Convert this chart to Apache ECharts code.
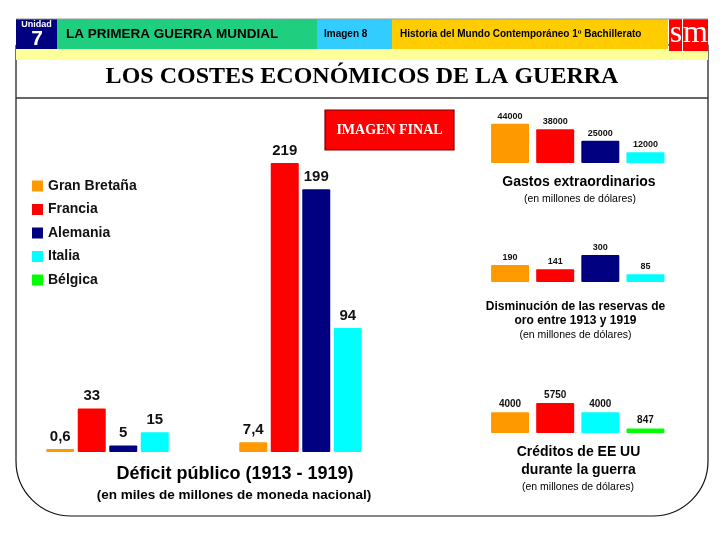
<!DOCTYPE html>
<html>
<head>
<meta charset="utf-8">
<script src="https://cdn.jsdelivr.net/npm/echarts@6/dist/echarts.min.js"></script>
<style>
html,body{margin:0;padding:0;background:#fff;}
#chart{width:728px;height:546px;}
</style>
</head>
<body>
<div id="chart"></div>
<script>
// ---- data ----
const countries = ['Gran Bretaña', 'Francia', 'Alemania', 'Italia', 'Bélgica'];
const countryColors = ['#FF9900', '#FF0000', '#000080', '#00FFFF', '#00FF00'];

const deficitYears = ['1913', '1919'];
const deficitGranBretana = [0.6, 7.4];
const deficitFrancia = [33, 219];
const deficitAlemania = [5, 199];
const deficitItalia = [15, 94];

const gastosCountries = ['Gran Bretaña', 'Francia', 'Alemania', 'Italia'];
const gastosValues = [44000, 38000, 25000, 12000];

const oroCountries = ['Gran Bretaña', 'Francia', 'Alemania', 'Italia'];
const oroValues = [190, 141, 300, 85];

const creditosCountries = ['Gran Bretaña', 'Francia', 'Italia', 'Bélgica'];
const creditosValues = [4000, 5750, 4000, 847];

// ---- build ----
const SANS = '"Liberation Sans", Arial, sans-serif';
const SERIF = '"Liberation Serif", "Times New Roman", serif';
const colorOf = name => countryColors[countries.indexOf(name)];
const fmt = v => String(v).replace('.', ',');

const series = [];
const mainData = [deficitGranBretana, deficitFrancia, deficitAlemania, deficitItalia];
mainData.forEach((arr, i) => {
  series.push({
    type: 'bar', name: countries[i], xAxisIndex: 0, yAxisIndex: 0,
    data: arr, barWidth: 28, barGap: '12.5%', barMinHeight: 3,
    itemStyle: { color: countryColors[i], borderRadius: 1 },
    label: { show: true, position: 'top', distance: 5, formatter: p => fmt(p.value),
      fontFamily: SANS, fontWeight: 'bold', fontSize: 15, color: '#111' }
  });
});

function smallSeries(cats, values, idx, fontSize, dist) {
  cats.forEach((c, i) => {
    series.push({
      type: 'bar', name: c, xAxisIndex: idx, yAxisIndex: idx, stack: 's' + idx,
      barWidth: 38,
      data: cats.map((cc, j) => (j === i ? values[i] : '-')),
      itemStyle: { color: colorOf(c), borderRadius: 1 },
      label: { show: true, position: 'top', distance: dist,
        fontFamily: SANS, fontWeight: 'bold', fontSize: fontSize, color: '#111' }
    });
  });
}
smallSeries(gastosCountries, gastosValues, 1, 9, 3);
smallSeries(oroCountries, oroValues, 2, 9, 3);
smallSeries(creditosCountries, creditosValues, 3, 10, 3);

function txt(text, x, y, size, opts) {
  opts = opts || {};
  return {
    type: 'text', z: 100,
    style: {
      text: text, x: x, y: y,
      font: (opts.weight || 'bold') + ' ' + size + 'px ' + (opts.family || SANS),
      fill: opts.color || '#000',
      align: opts.align || 'center', textAlign: opts.align || 'center',
      verticalAlign: 'middle', textVerticalAlign: 'middle'
    }
  };
}

const graphic = [
  // frame
  { type: 'rect', z: 1, shape: { x: 16, y: 45, width: 692, height: 471, r: [0, 0, 55, 55] },
    style: { fill: 'none', stroke: '#111', lineWidth: 1.2 } },
  // header
  { type: 'rect', z: 50, shape: { x: 16, y: 19, width: 41, height: 30 }, style: { fill: '#000080' } },
  { type: 'rect', z: 50, shape: { x: 57, y: 19, width: 260, height: 30 }, style: { fill: '#1FCE7E' } },
  { type: 'rect', z: 50, shape: { x: 317, y: 19, width: 75, height: 30 }, style: { fill: '#33CCFF' } },
  { type: 'rect', z: 50, shape: { x: 392, y: 19, width: 276, height: 30 }, style: { fill: '#FFCC00' } },
  { type: 'rect', z: 50, shape: { x: 669, y: 19, width: 39, height: 32 }, style: { fill: '#FF0000' } },
  { type: 'rect', z: 50, shape: { x: 16, y: 49, width: 653, height: 11 }, style: { fill: '#FFFF99' } },
  { type: 'rect', z: 50, shape: { x: 669, y: 51, width: 39, height: 9 }, style: { fill: '#FFFF99' } },
  { type: 'line', z: 52, shape: { x1: 682.5, y1: 19, x2: 682.5, y2: 51 }, style: { stroke: '#fff', lineWidth: 1 } },
  { type: 'line', z: 51, shape: { x1: 16, y1: 19, x2: 708, y2: 19 }, style: { stroke: '#999', lineWidth: 1 } },
  txt('Unidad', 36.5, 25, 9, { color: '#fff' }),
  txt('7', 37, 39, 21, { color: '#fff' }),
  txt('LA PRIMERA GUERRA MUNDIAL', 66, 34.5, 13.5, { align: 'left' }),
  txt('Imagen 8', 324, 34.5, 10, { align: 'left' }),
  txt('Historia del Mundo Contemporáneo 1º Bachillerato', 400, 34.5, 10, { align: 'left' }),
  txt('s', 676, 34, 32, { color: '#fff', weight: 'normal', family: SERIF }),
  txt('m', 695.5, 34, 32, { color: '#fff', weight: 'normal', family: SERIF }),
  // title
  txt('LOS COSTES ECONÓMICOS DE LA GUERRA', 362, 77, 24, { family: SERIF }),
  { type: 'line', z: 2, shape: { x1: 16, y1: 98, x2: 708, y2: 98 }, style: { stroke: '#333', lineWidth: 1.5 } },
  // imagen final
  { type: 'rect', z: 5, shape: { x: 325, y: 110, width: 129, height: 40 },
    style: { fill: '#FF0000', stroke: '#7a0000', lineWidth: 1.2 } },
  txt('IMAGEN FINAL', 389.5, 130, 14, { color: '#fff', family: SERIF }),
  // main captions
  txt('Déficit público (1913 - 1919)', 235, 474, 18),
  txt('(en miles de millones de moneda nacional)', 234, 495, 13.5),
  // small captions
  txt('Gastos extraordinarios', 579, 182, 14),
  txt('(en millones de dólares)', 580, 199, 10.5, { weight: 'normal' }),
  txt('Disminución de las reservas de', 575.5, 307, 12),
  txt('oro entre 1913 y 1919', 575.5, 321, 12),
  txt('(en millones de dólares)', 575.5, 335, 10.5, { weight: 'normal' }),
  txt('Créditos de EE UU', 578.5, 452, 14),
  txt('durante la guerra', 578.5, 470, 14),
  txt('(en millones de dólares)', 578, 487, 10.5, { weight: 'normal' })
];

const option = {
  animation: false,
  backgroundColor: '#fff',
  legend: {
    data: countries, orient: 'vertical', left: 32, top: 179, padding: 0,
    icon: 'rect', itemWidth: 11, itemHeight: 11, itemGap: 9.5,
    selectedMode: false,
    textStyle: { fontFamily: SANS, fontWeight: 'bold', fontSize: 14, color: '#111' }
  },
  grid: [
    { left: 11, right: 331, top: 122, bottom: 94 },
    { left: 487.5, right: 60, top: 118.5, bottom: 383 },
    { left: 487.5, right: 60, top: 250.5, bottom: 264 },
    { left: 487.5, right: 60, top: 399.2, bottom: 113 }
  ],
  xAxis: [
    { type: 'category', data: deficitYears, gridIndex: 0, show: false },
    { type: 'category', data: gastosCountries, gridIndex: 1, show: false },
    { type: 'category', data: oroCountries, gridIndex: 2, show: false },
    { type: 'category', data: creditosCountries, gridIndex: 3, show: false }
  ],
  yAxis: [
    { type: 'value', gridIndex: 0, min: 0, max: 250, show: false },
    { type: 'value', gridIndex: 1, min: 0, max: 50000, show: false },
    { type: 'value', gridIndex: 2, min: 0, max: 350, show: false },
    { type: 'value', gridIndex: 3, min: 0, max: 6500, show: false }
  ],
  series: series,
  graphic: graphic
};

const chart = echarts.init(document.getElementById('chart'), null, { renderer: 'canvas' });
chart.setOption(option);
</script>
</body>
</html>
